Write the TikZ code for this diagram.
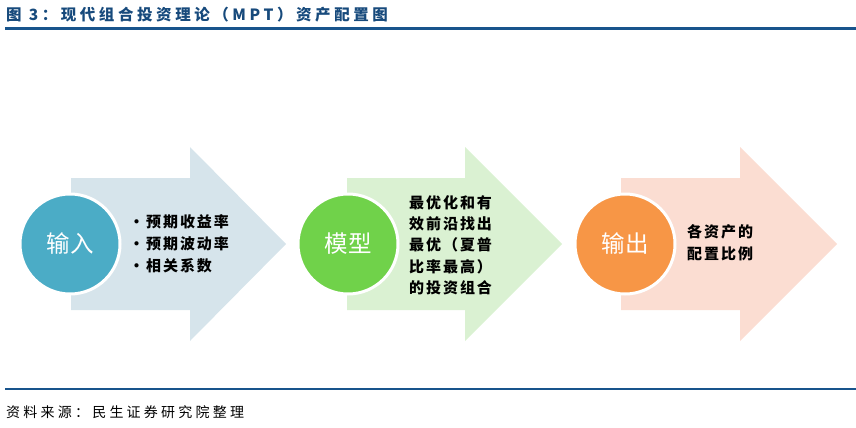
\documentclass[tikz,border=0pt]{standalone}
\usepackage{fontspec}
\usepackage{xcolor}
\usepackage{tikz}
\usetikzlibrary{positioning}
\newfontfamily\cjk[LetterSpace=13]{Noto Sans CJK SC}
\newfontfamily\cjkwide[LetterSpace=23]{Noto Sans CJK SC}
\newfontfamily\cjkplain{Noto Sans CJK SC}
\definecolor{titleblue}{RGB}{23,74,124}
\definecolor{ruleblue}{RGB}{24,84,140}
\definecolor{inblue}{RGB}{75,172,198}
\definecolor{inbluebg}{RGB}{214,228,235}
\definecolor{modgreen}{RGB}{112,210,74}
\definecolor{modgreenbg}{RGB}{218,241,210}
\definecolor{outorange}{RGB}{247,150,70}
\definecolor{outorangebg}{RGB}{251,221,210}
\tikzset{
  stage/.style={circle, minimum size=100pt, inner sep=0pt, draw=white,
    line width=3pt, text=white, font=\cjkplain\fontsize{23.5}{26}\selectfont},
  notes/.style={anchor=west, align=left, inner sep=0pt,
    font=\cjk\fontsize{15}{22}\selectfont\bfseries}
}
\begin{document}
\begin{tikzpicture}[x=1pt, y=-1pt]
  \useasboundingbox (0,0) rectangle (856,428);
  % --- title and rules ---------------------------------------------
  \node[anchor=west, inner sep=0pt, text=titleblue,
    font=\cjkwide\fontsize{15.5}{18}\selectfont\bfseries] (title) at (6,15)
    {图 3：现代组合投资理论（MPT）资产配置图};
  \draw[ruleblue, line width=2.5pt] (5,28.5) -- (856,28.5);
  \draw[ruleblue, line width=2.5pt] (5,389) -- (856,389);
  \node[anchor=west, inner sep=0pt, font=\cjkwide\fontsize{14}{17}\selectfont]
    (source) at (6,412) {资料来源：民生证券研究院整理};
  % --- arrows --------------------------------------------------------
  \fill[inbluebg]    (71,178) -- (190,178) -- (190,147) -- (286,244)
    -- (190,341) -- (190,310) -- (71,310) -- cycle;
  \fill[modgreenbg]  (347,178) -- (465,178) -- (465,147) -- (562,244)
    -- (465,341) -- (465,310) -- (347,310) -- cycle;
  \fill[outorangebg] (621,178) -- (740,178) -- (740,147) -- (837,244)
    -- (740,341) -- (740,310) -- (621,310) -- cycle;
  % --- stages -------------------------------------------------------
  \node[stage, fill=inblue]     (input)  at (70,244)  {输入};
  \node[stage, fill=modgreen]   (model)  at (348,244) {模型};
  \node[stage, fill=outorange]  (output) at (625,244) {输出};
  % --- notes --------------------------------------------------------
  \node[notes] (inputnote)  at (129,244)
    {•预期收益率\\•预期波动率\\•相关系数};
  \node[notes, font=\cjk\fontsize{15}{21.3}\selectfont\bfseries]
    (modelnote) at (409,245)
    {最优化和有\\效前沿找出\\最优（夏普\\比率最高）\\的投资组合};
  \node[notes] (outputnote) at (687,243) {各资产的\\配置比例};
\end{tikzpicture}
\end{document}
